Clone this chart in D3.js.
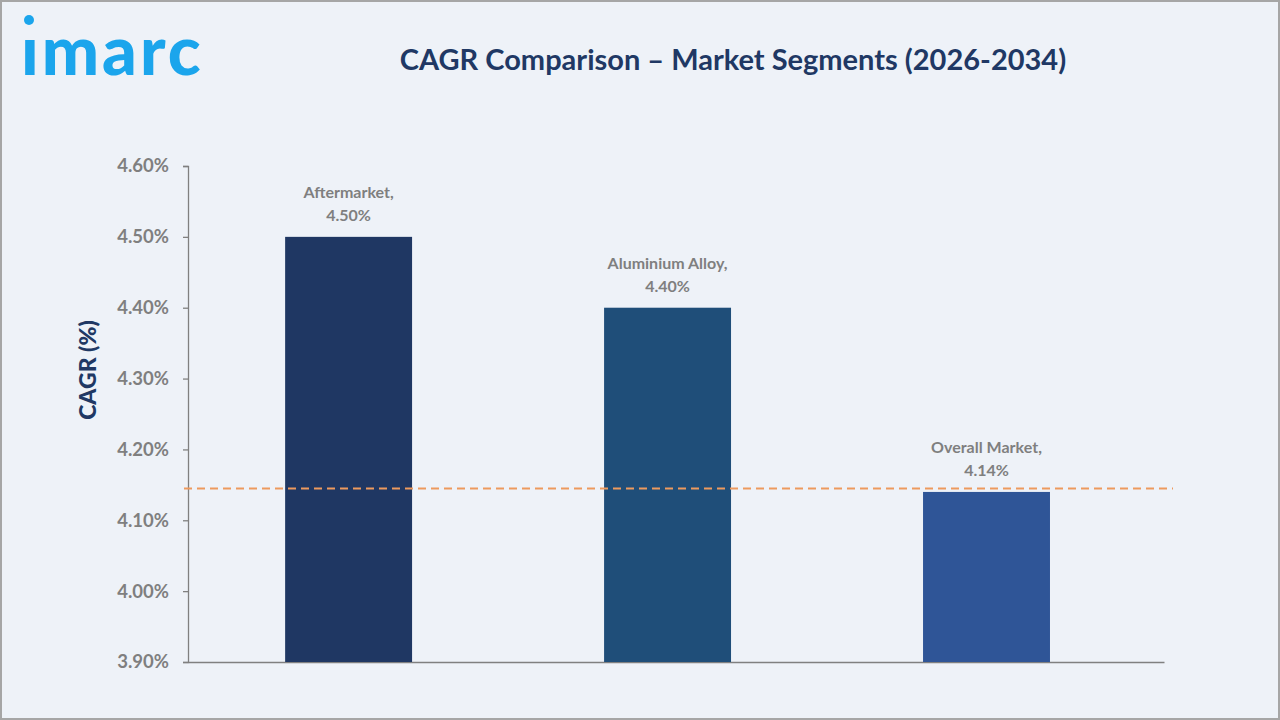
<!DOCTYPE html>
<html>
<head>
<meta charset="utf-8">
<script src="https://cdn.jsdelivr.net/npm/d3@7"></script>
<style>
  html, body { margin: 0; padding: 0; background: #eef2f8; }
  svg { display: block; }
</style>
</head>
<body>
<script>
const categories = ["Aftermarket", "Aluminium Alloy", "Overall Market"];
const values = [4.50, 4.40, 4.14];
const barColors = ["#1f3763", "#1f4e79", "#2f5597"];
const yTicks = [3.90, 4.00, 4.10, 4.20, 4.30, 4.40, 4.50, 4.60];
const referenceLine = 4.145;
const titleText = "CAGR Comparison \u2013 Market Segments (2026-2034)";
const yAxisTitle = "CAGR (%)";

const W = 1280, H = 720;
const svg = d3.select("body").append("svg").attr("width", W).attr("height", H);

svg.append("rect").attr("x", 1).attr("y", 1).attr("width", W - 2).attr("height", H - 2)
  .attr("fill", "#eef2f8").attr("stroke", "#a6a6a6").attr("stroke-width", 2);

// Logo
const logo = svg.append("g");
logo.append("text").attr("x", 21).attr("y", 75)
  .attr("font-family", "Lato, sans-serif").attr("font-weight", 900)
  .attr("font-size", 68).attr("fill", "#1ba5ec").attr("letter-spacing", 3)
  .text("\u0131marc");
logo.append("circle").attr("cx", 29).attr("cy", 20).attr("r", 5).attr("fill", "#1ba5ec");

// Title
svg.append("text").attr("x", 733).attr("y", 70).attr("text-anchor", "middle")
  .attr("font-family", "Lato, sans-serif").attr("font-weight", 700)
  .attr("font-size", 29).attr("fill", "#203864").text(titleText);

const x0 = 188, x1 = 1164, yTop = 166, yBot = 662;
const y = d3.scaleLinear().domain([3.90, 4.60]).range([yBot, yTop]);
const x = d3.scaleBand().domain(categories).range([x0, x1])
  .paddingInner(0.602).paddingOuter(0.331).align(0.46);

// Y axis
const yAxis = d3.axisLeft(y).tickValues(yTicks).tickSize(5).tickPadding(14)
  .tickFormat(d => d.toFixed(2) + "%");
const gy = svg.append("g").attr("transform", `translate(${x0},0)`).call(yAxis);
gy.select(".domain").attr("stroke", "#808080").attr("stroke-width", 1.3);
gy.selectAll(".tick line").attr("stroke", "#808080").attr("stroke-width", 1.3);
gy.selectAll(".tick text").attr("font-family", "Lato, sans-serif").attr("font-weight", 700)
  .attr("font-size", 18.5).attr("fill", "#7f7f7f");

// X axis line
const xAxis = d3.axisBottom(x).tickSize(0).tickFormat("");
const gx = svg.append("g").attr("transform", `translate(0,${yBot})`).call(xAxis);
gx.select(".domain").attr("stroke", "#808080").attr("stroke-width", 1.3);

// Y title
svg.append("text").attr("transform", `translate(96,${370}) rotate(-90)`)
  .attr("text-anchor", "middle")
  .attr("font-family", "Lato, sans-serif").attr("font-weight", 900)
  .attr("font-size", 23).attr("fill", "#203864").text(yAxisTitle);

// Bars
svg.append("g").selectAll("rect").data(categories).join("rect")
  .attr("x", d => x(d)).attr("width", x.bandwidth())
  .attr("y", (d, i) => y(values[i])).attr("height", (d, i) => yBot - y(values[i]))
  .attr("fill", (d, i) => barColors[i]);

// Reference line
svg.append("line").attr("x1", x0 - 4).attr("x2", x1 + 9)
  .attr("y1", y(referenceLine)).attr("y2", y(referenceLine))
  .attr("stroke", "#ed9a5e").attr("stroke-width", 2).attr("stroke-dasharray", "8,5");

// Labels
const lbl = svg.append("g").selectAll("text").data(categories).join("text")
  .attr("text-anchor", "middle")
  .attr("font-family", "Lato, sans-serif").attr("font-weight", 700)
  .attr("font-size", 16).attr("fill", "#7f7f7f");
lbl.append("tspan").attr("x", d => x(d) + x.bandwidth() / 2)
  .attr("y", (d, i) => y(values[i]) - 39).text(d => d + ",");
lbl.append("tspan").attr("x", d => x(d) + x.bandwidth() / 2)
  .attr("y", (d, i) => y(values[i]) - 16).text((d, i) => values[i].toFixed(2) + "%");
</script>
</body>
</html>
